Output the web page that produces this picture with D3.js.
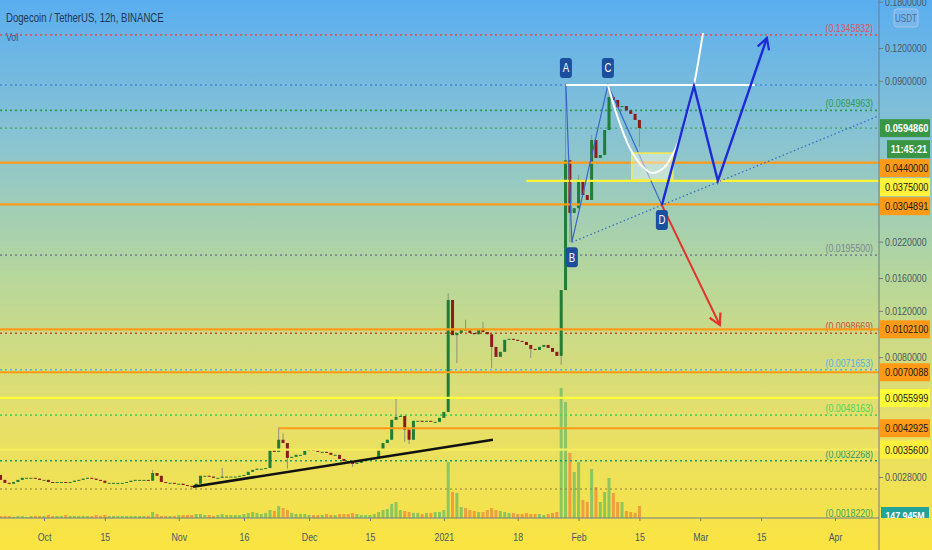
<!DOCTYPE html>
<head>
  <meta charset="utf-8">
  <style>
    body { margin: 0; overflow: hidden; }
    svg text { font-family: 'Liberation Sans', Arial, sans-serif; }
    .axis path, .axis line { stroke: #6f7c88; }
    .axis text { fill: #4b5866; font-size: 11px; }
  </style>
</head>

<body>
  <script src="https://cdn.jsdelivr.net/npm/d3@7"></script>
  <script>
    const width = 932;
    const height = 550;
    const plotRight = 879;
    const plotBottom = 518;
    const squeeze = 0.8; // the chart's font is a narrow one

    // ---- data: daily candles from 2020-09-21 ----
    const firstDay = "2020-09-21";
    const firstOpen = 0.00285;
    const closes = [
      0.00273, 0.00266, 0.00264, 0.00268, 0.00273, 0.00278, 0.00278, 0.00278, 0.00276, 0.00273,
      0.00273, 0.00268, 0.00266, 0.00268, 0.00268, 0.00266, 0.00268, 0.00271, 0.00273, 0.00276,
      0.00278, 0.00276, 0.00273, 0.00271, 0.00266, 0.00266, 0.00266, 0.00266, 0.00266, 0.00268,
      0.00271, 0.00273, 0.00273, 0.00273, 0.00271, 0.00290, 0.00283, 0.00268, 0.00266, 0.00266,
      0.00264, 0.00264, 0.00261, 0.00259, 0.00257, 0.00264, 0.00283, 0.00283, 0.00281, 0.00278,
      0.00278, 0.00281, 0.00281, 0.00281, 0.00281, 0.00283, 0.00285, 0.00293, 0.00298, 0.00301,
      0.00301, 0.00303, 0.00355, 0.00349, 0.00388, 0.00377, 0.00331, 0.00334, 0.00340, 0.00340,
      0.00352, 0.00355, 0.00352, 0.00349, 0.00349, 0.00346, 0.00340, 0.00340, 0.00328, 0.00322,
      0.00320, 0.00314, 0.00317, 0.00325, 0.00325, 0.00328, 0.00331, 0.00355, 0.00377, 0.00388,
      0.00462, 0.00474, 0.00478, 0.00424, 0.00388, 0.00458, 0.00458, 0.00454, 0.00458, 0.00454,
      0.00454, 0.00470, 0.00495, 0.0132, 0.00970, 0.00989, 0.0102, 0.0101, 0.00989, 0.00978,
      0.0102, 0.00997, 0.00978, 0.00875, 0.00802, 0.00838, 0.00931, 0.00939, 0.00931, 0.00922,
      0.00914, 0.00890, 0.00860, 0.00852, 0.00875, 0.00890, 0.00867, 0.00838, 0.00809, 0.0144,
      0.0449, 0.0283, 0.0295, 0.0378, 0.0331, 0.0317, 0.0536, 0.0458, 0.0470, 0.0585,
      0.0781, 0.0761, 0.0715, 0.0722, 0.0695, 0.0674, 0.0639, 0.0595
    ];
    const wickHighs = [
      ["2020-10-26", 0.00298], ["2020-11-11", 0.00303], ["2020-11-24", 0.00432], ["2020-11-25", 0.00410],
      ["2020-12-21", 0.00560], ["2021-01-02", 0.0140], ["2021-01-06", 0.0111], ["2021-01-10", 0.0109],
      ["2021-01-29", 0.0883], ["2021-02-01", 0.0394], ["2021-02-04", 0.0561], ["2021-02-08", 0.0883]
    ];
    const wickLows = [
      ["2020-11-04", 0.00252], ["2020-11-26", 0.00301], ["2020-12-11", 0.00306], ["2020-12-23", 0.00381],
      ["2020-12-24", 0.00374], ["2021-01-04", 0.00760], ["2021-01-12", 0.00728], ["2021-01-21", 0.00795],
      ["2021-01-28", 0.00748], ["2021-01-30", 0.0219], ["2021-02-15", 0.0505]
    ];
    // volume, millions
    const volumes = [
      25, 25, 25, 12, 25, 25, 12, 25, 25, 25, 25, 37, 25, 25, 25, 37, 25, 25, 25, 25,
      25, 25, 37, 25, 37, 25, 25, 25, 25, 25, 25, 25, 25, 25, 25, 74, 49, 25, 25, 25,
      25, 37, 37, 37, 37, 49, 49, 37, 37, 25, 37, 49, 37, 37, 37, 37, 49, 62, 74, 62,
      49, 62, 98, 86, 148, 123, 98, 62, 49, 49, 49, 37, 37, 37, 37, 49, 37, 37, 49, 49,
      49, 62, 49, 37, 37, 37, 49, 74, 98, 111, 172, 197, 98, 86, 74, 62, 62, 49, 62, 62,
      74, 74, 98, 689, 320, 308, 135, 123, 98, 86, 74, 74, 98, 123, 98, 86, 74, 62, 62, 49,
      49, 62, 49, 49, 49, 37, 49, 62, 74, 1600, 1427, 800, 566, 689, 221, 197, 603, 381, 197, 320,
      492, 308, 197, 197, 86, 74, 62, 148
    ];
    const lastPrice = 0.059486;
    const countdown = "11:45:21";
    const lastVolume = "147.945M";

    // axes
    const xTickDates = ["2020-10-01", "2020-10-15", "2020-11-01", "2020-11-16", "2020-12-01", "2020-12-15",
      "2021-01-01", "2021-01-18", "2021-02-01", "2021-02-15", "2021-03-01", "2021-03-15", "2021-04-01"];
    const xTickLabels = ["Oct", "15", "Nov", "16", "Dec", "15", "2021", "18", "Feb", "15", "Mar", "15", "Apr"];
    const yTickValues = [0.18, 0.12, 0.09, 0.022, 0.016, 0.012, 0.008, 0.0028];

    // horizontal levels
    const solidLevels = [0.044, 0.0375, 0.0304891, 0.01021, 0.0070088, 0.0055999, 0.0042925, 0.00356];
    const solidStarts = [null, "2021-01-20", null, null, null, null, "2020-11-24", null];
    const solidLineColors = ["#ff9a16", "#fff23a", "#ff9a16", "#ff9a16", "#ff9a16", "#ffff3a", "#ff9a16", "#f6ec5c"];
    const solidTagColors = ["#ff9a16", "#fff23a", "#ff9a16", "#ff9a16", "#ff9a16", "#ffff3a", "#ff9a16", "#fff03c"];
    const dottedLevels = [0.1345832, 0.0868, 0.0694963, lastPrice, 0.01955, 0.0098669, 0.0071653, 0.0048163, 0.0032268, 0.00252, 0.001822];
    const dottedLabels = ["(0.1345832)", "", "(0.0694963)", "", "(0.0195500)", "(0.0098669)", "(0.0071653)", "(0.0048163)", "(0.0032268)", "", "(0.0018220)"];
    const dottedColors = ["#e0545c", "#4d86d6", "#2f9a52", "#3c9a4a", "#7b8a8c", "#cf4a35", "#55b0e8", "#4fd456", "#1f9a6a", "#8a7d45", "#3aa56a"];

    // drawings (time, price)
    const trendLine = [["2020-11-04T07:00", 0.00257], ["2021-01-12T07:00", 0.00388]];
    const abcdPoints = [["2021-01-29T02:00", 0.0868], ["2021-01-30T11:00", 0.0219], ["2021-02-07T18:00", 0.0868], ["2021-02-20T04:00", 0.0303]];
    const abcdNames = ["A", "B", "C", "D"];
    const whiteLine = [["2021-01-29T02:00", 0.0868], ["2021-03-13T13:00", 0.0868]];
    const cupCurve = [["2021-02-07T18:00", 0.0868], ["2021-02-10T01:00", 0.0650], ["2021-02-12T19:00", 0.0500],
      ["2021-02-15T14:00", 0.0427], ["2021-02-17T21:00", 0.0402], ["2021-02-20T15:00", 0.0420],
      ["2021-02-23T09:00", 0.0500], ["2021-02-25T16:00", 0.0650], ["2021-02-27T13:00", 0.0868],
      ["2021-03-01T15:00", 0.1368]];
    const highlightBox = [["2021-02-13T06:00", 0.0478], ["2021-02-22T17:00", 0.0378]];
    const zigzag = [["2021-02-20T04:00", 0.0303], ["2021-02-27T13:00", 0.0860], ["2021-03-05T01:00", 0.0375], ["2021-03-16T08:00", 0.1310]];
    const redArrow = [["2021-02-20T04:00", 0.0303], ["2021-03-05T12:00", 0.0106]];

    // ---- setup ----
    const day = d3.utcParse("%Y-%m-%d");
    const stamp = d3.utcParse("%Y-%m-%dT%H:%M");
    const start = day(firstDay);

    const candles = closes.map((c, i) => {
      const open = i === 0 ? firstOpen : closes[i - 1];
      return { date: d3.utcDay.offset(start, i), open: open, close: c,
        high: Math.max(open, c), low: Math.min(open, c), volume: volumes[i] };
    });
    wickHighs.forEach(w => { candles[d3.utcDay.count(start, day(w[0]))].high = w[1]; });
    wickLows.forEach(w => { candles[d3.utcDay.count(start, day(w[0]))].low = w[1]; });

    const x = d3.scaleUtc().domain([day("2020-10-01"), day("2021-04-01")]).range([44, 835]);
    const y = d3.scaleLog().domain([0.0028, 0.12]).range([477, 48]);
    const yVol = d3.scaleLinear().domain([0, 1600]).range([plotBottom, 388]);
    const pt = p => [x(stamp(p[0])), y(p[1])];

    // squeeze text horizontally, keeping its anchor where it was
    function narrow(sel) {
      sel.each(function() {
        const t = d3.select(this);
        const x0 = +t.attr("x") || 0;
        t.attr("x", x0 / squeeze).attr("transform", "scale(" + squeeze + ",1)");
      });
    }

    const svg = d3.select("body").append("svg")
      .attr("width", width).attr("height", height);
    const defs = svg.append("defs");

    const grad = defs.append("linearGradient").attr("id", "bg")
      .attr("x1", 0).attr("y1", 0).attr("x2", 0).attr("y2", 1);
    [[0, "#5aaef0"], [0.25, "#88c3d2"], [0.5, "#b6d79c"], [0.75, "#e4df6c"], [1, "#fbe440"]]
      .forEach(s => grad.append("stop").attr("offset", s[0]).attr("stop-color", s[1]));

    defs.append("clipPath").attr("id", "plot")
      .append("rect").attr("width", plotRight).attr("height", plotBottom);
    defs.append("clipPath").attr("id", "tags")
      .append("rect").attr("x", plotRight).attr("width", width - plotRight).attr("height", plotBottom);

    function marker(id, color) {
      defs.append("marker").attr("id", id)
        .attr("viewBox", "0 0 14 14").attr("refX", 12).attr("refY", 7)
        .attr("markerWidth", 14).attr("markerHeight", 14)
        .attr("markerUnits", "userSpaceOnUse").attr("orient", "auto")
        .append("path").attr("d", "M1,1 L12,7 L1,13")
        .attr("fill", "none").attr("stroke", color).attr("stroke-width", 2.2);
    }
    marker("arrow-blue", "#1d2ad8");
    marker("arrow-red", "#e2342c");

    svg.append("rect").attr("width", width).attr("height", height).attr("fill", "url(#bg)");

    const plot = svg.append("g").attr("clip-path", "url(#plot)");

    //----------------------------VOLUME-----------------------------//
    plot.append("g").selectAll("rect").data(candles).enter().append("rect")
      .attr("x", d => x(d.date) - 1.5)
      .attr("width", 3)
      .attr("y", d => yVol(d.volume))
      .attr("height", d => plotBottom - yVol(d.volume))
      .attr("fill", d => d.close >= d.open ? "#62bb62" : "#f0803c")
      .attr("opacity", 0.7);

    //----------------------------LEVELS-----------------------------//
    plot.append("g").selectAll("line").data(dottedLevels).enter().append("line")
      .attr("x1", 0).attr("x2", plotRight)
      .attr("y1", d => y(d)).attr("y2", d => y(d))
      .attr("stroke", (d, i) => dottedColors[i])
      .attr("stroke-width", (d, i) => i === 3 || i === 9 ? 1 : 1.6)
      .attr("stroke-dasharray", "2,3");

    plot.append("g").selectAll("text").data(dottedLevels).enter().append("text")
      .attr("x", 873)
      .attr("y", d => Math.min(y(d), 520) - 3)
      .attr("text-anchor", "end")
      .attr("font-size", 11)
      .attr("fill", (d, i) => dottedColors[i])
      .text((d, i) => dottedLabels[i])
      .call(narrow);

    //----------------------------CANDLES----------------------------//
    const cg = plot.append("g");
    cg.selectAll("line").data(candles).enter().append("line")
      .attr("x1", d => x(d.date)).attr("x2", d => x(d.date))
      .attr("y1", d => y(d.high)).attr("y2", d => y(d.low))
      .attr("stroke", "#8b937f").attr("stroke-width", 1);
    cg.selectAll("rect").data(candles).enter().append("rect")
      .attr("x", d => x(d.date) - 1.5)
      .attr("width", 3)
      .attr("y", d => y(Math.max(d.open, d.close)))
      .attr("height", d => Math.max(1, Math.abs(y(d.open) - y(d.close))))
      .attr("fill", d => d.close >= d.open ? "#1f7d36" : "#8c1c1c");

    plot.append("g").selectAll("line").data(solidLevels).enter().append("line")
      .attr("x1", (d, i) => solidStarts[i] ? x(day(solidStarts[i])) : 0)
      .attr("x2", plotRight)
      .attr("y1", d => y(d)).attr("y2", d => y(d))
      .attr("stroke", (d, i) => solidLineColors[i])
      .attr("stroke-width", 2.2);

    //----------------------------DRAWINGS---------------------------//
    const line = d3.line();
    plot.append("path").attr("d", line(trendLine.map(pt)))
      .attr("stroke", "#111").attr("stroke-width", 2.6).attr("fill", "none");

    // dotted extension B -> D to the right edge
    const pB = pt(abcdPoints[1]), pD = pt(abcdPoints[3]);
    const slope = (pD[1] - pB[1]) / (pD[0] - pB[0]);
    plot.append("line")
      .attr("x1", pB[0]).attr("y1", pB[1])
      .attr("x2", plotRight).attr("y2", pB[1] + slope * (plotRight - pB[0]))
      .attr("stroke", "#3c6fc6").attr("stroke-width", 1.3).attr("stroke-dasharray", "1.5,2.5");

    plot.append("path").attr("d", line(abcdPoints.map(pt)))
      .attr("stroke", "#3a64cc").attr("stroke-width", 1.2).attr("fill", "none");

    const b0 = pt(highlightBox[0]), b1 = pt(highlightBox[1]);
    plot.append("rect")
      .attr("x", b0[0]).attr("y", b0[1])
      .attr("width", b1[0] - b0[0]).attr("height", b1[1] - b0[1])
      .attr("fill", "rgba(255,255,230,0.45)")
      .attr("stroke", "#f7ea4a").attr("stroke-width", 1.5);

    plot.append("path").attr("d", line(whiteLine.map(pt)))
      .attr("stroke", "#ffffff").attr("stroke-width", 2).attr("fill", "none");

    plot.append("path").attr("d", d3.line().curve(d3.curveCatmullRom)(cupCurve.map(pt)))
      .attr("stroke", "#ffffff").attr("stroke-width", 2).attr("fill", "none");

    plot.append("path").attr("d", line(zigzag.map(pt)))
      .attr("stroke", "#1d2ad8").attr("stroke-width", 2.4).attr("fill", "none")
      .attr("marker-end", "url(#arrow-blue)");

    plot.append("path").attr("d", line(redArrow.map(pt)))
      .attr("stroke", "#e2342c").attr("stroke-width", 2).attr("fill", "none")
      .attr("marker-end", "url(#arrow-red)");

    const labelG = plot.append("g").selectAll("g").data(abcdPoints).enter().append("g")
      .attr("transform", (d, i) => {
        const p = pt(d);
        return "translate(" + p[0] + "," + (p[1] + (i % 2 === 0 ? -17 : 15)) + ")";
      });
    labelG.append("rect").attr("x", -6).attr("y", -10).attr("width", 12).attr("height", 20)
      .attr("rx", 3).attr("fill", "#1b4f9e");
    labelG.append("text").attr("text-anchor", "middle").attr("dy", "0.36em")
      .attr("font-size", 12).attr("fill", "#fff")
      .text((d, i) => abcdNames[i])
      .call(narrow);

    //----------------------------AXES-------------------------------//
    svg.append("g").attr("class", "axis")
      .attr("transform", "translate(0," + plotBottom + ")")
      .call(d3.axisBottom(x).tickValues(xTickDates.map(day))
        .tickFormat((d, i) => xTickLabels[i]).tickSize(3).tickPadding(12))
      .call(g => g.select(".domain").attr("d", "M0,0H" + plotRight))
      .call(g => g.selectAll("text").call(narrow));

    svg.append("g").attr("class", "axis")
      .attr("transform", "translate(" + plotRight + ",0)")
      .call(d3.axisRight(y).tickValues(yTickValues).tickFormat(d3.format(".7f"))
        .tickSize(4).tickPadding(2))
      .call(g => g.select(".domain").attr("d", "M0,0V" + height))
      .call(g => g.selectAll("text").call(narrow));

    //----------------------------TAGS-------------------------------//
    const tags = solidLevels.map((v, i) => ({ v: v, text: d3.format(".7f")(v), fill: solidTagColors[i], color: "#1a1a1a" }));
    tags.push({ v: lastPrice, text: d3.format(".7f")(lastPrice), fill: "#3a9645", color: "#fff", bold: true });
    tags.sort((a, b) => b.v - a.v);
    tags.forEach(t => { t.y = y(t.v); });
    const k = tags.findIndex(t => t.v === lastPrice);
    tags.splice(k + 1, 0, { y: tags[k].y + 21, text: countdown, fill: "#3a9645", color: "#fff", x0: 887 });
    for (let i = 1; i < tags.length; i++) tags[i].y = Math.max(tags[i].y, tags[i - 1].y + 19);

    const tg = svg.append("g").selectAll("g").data(tags).enter().append("g")
      .attr("transform", d => "translate(0," + d.y + ")");
    tg.append("rect")
      .attr("x", d => d.x0 || plotRight + 1).attr("y", -9)
      .attr("width", d => width - (d.x0 || plotRight + 1) - 2).attr("height", 18)
      .attr("fill", d => d.fill);
    tg.append("text")
      .attr("x", d => d.x0 ? 909 : 885).attr("dy", "0.36em")
      .attr("text-anchor", d => d.x0 ? "middle" : "start")
      .attr("font-size", 11.5)
      .attr("font-weight", d => d.bold || d.x0 ? "bold" : "normal")
      .attr("fill", d => d.color)
      .text(d => d.text)
      .call(narrow);

    const vt = svg.append("g").attr("clip-path", "url(#tags)")
      .append("g").attr("transform", "translate(0," + (plotBottom - 2) + ")");
    vt.append("rect").attr("x", plotRight + 2).attr("y", -9).attr("width", 48).attr("height", 18).attr("fill", "#22a39a");
    vt.append("text").attr("x", 905).attr("dy", "0.36em").attr("text-anchor", "middle")
      .attr("font-size", 11).attr("font-weight", "bold").attr("fill", "#fff").text(lastVolume)
      .call(narrow);

    // currency badge
    svg.append("rect").attr("x", 894).attr("y", 9).attr("width", 24).attr("height", 18).attr("rx", 3)
      .attr("fill", "rgba(140,190,240,0.5)").attr("stroke", "#a6c6e8");
    svg.append("text").attr("x", 906).attr("y", 22).attr("text-anchor", "middle")
      .attr("font-size", 10).attr("fill", "#4f6c90").text("USDT")
      .call(narrow);

    //----------------------------TITLE------------------------------//
    svg.append("text").attr("x", 6).attr("y", 22).attr("font-size", 12)
      .attr("fill", "#1f3654").text("Dogecoin / TetherUS, 12h, BINANCE")
      .call(narrow);
    svg.append("text").attr("x", 6).attr("y", 41).attr("font-size", 11)
      .attr("fill", "#3b5573").text("Vol")
      .call(narrow);
  </script>
</body>
